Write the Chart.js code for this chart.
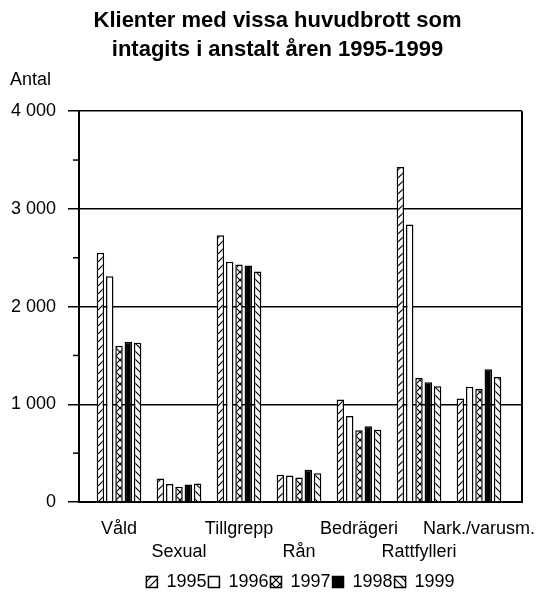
<!DOCTYPE html>
<html>
<head>
<meta charset="utf-8">
<script src="https://cdn.jsdelivr.net/npm/chart.js@4"></script>
<style>
  html, body { margin: 0; padding: 0; background: #fff; }
  #wrap { width: 545px; height: 593px; }
</style>
</head>
<body>
<div id="wrap"><canvas id="chart"></canvas></div>
<script>
// data
const categories = ['Våld', 'Sexual', 'Tillgrepp', 'Rån', 'Bedrägeri', 'Rattfylleri', 'Nark./varusm.'];
const years = ['1995', '1996', '1997', '1998', '1999'];
const v1995 = [2550, 240, 2730, 280, 1050, 3430, 1060];
const v1996 = [2310, 185, 2460, 270, 880, 2840, 1180];
const v1997 = [1600, 155, 2430, 250, 735, 1270, 1160];
const v1998 = [1640, 180, 2420, 330, 775, 1225, 1360];
const v1999 = [1630, 190, 2360, 295, 740, 1185, 1280];
const yMajorTicks = [0, 1000, 2000, 3000, 4000];
const yMinorTicks = [500, 1500, 2500, 3500];

const series = [v1995, v1996, v1997, v1998, v1999];
const FONT = '"Liberation Sans", Arial, sans-serif';
Chart.defaults.font.family = FONT;
Chart.defaults.color = '#000';

const canvas = document.getElementById('chart');
const ctx = canvas.getContext('2d');

// fill patterns like the old excel hatchings
function makePattern(kind) {
    const c = document.createElement('canvas');
    c.width = 8;
    c.height = 8;
    const g = c.getContext('2d');
    g.fillStyle = kind === 'black' ? '#000' : '#fff';
    g.fillRect(0, 0, 8, 8);
    g.strokeStyle = '#000';
    g.lineWidth = 1.2;
    const line = (x1, y1, x2, y2) => {
        g.beginPath();
        g.moveTo(x1, y1);
        g.lineTo(x2, y2);
        g.stroke();
    };
    if (kind === 'fwd' || kind === 'cross') {
        line(0, 8, 8, 0); line(-2, 2, 2, -2); line(6, 10, 10, 6);
    }
    if (kind === 'back' || kind === 'cross') {
        line(0, 0, 8, 8); line(-2, 6, 2, 10); line(6, -2, 10, 2);
    }
    return ctx.createPattern(c, 'repeat');
}
const patterns = ['fwd', 'white', 'cross', 'black', 'back'].map(makePattern);

function fmt(v) {
    return String(v).replace(/\B(?=(\d{3})+(?!\d))/g, ' ');
}

const extras = {
    id: 'extras',
    afterDraw(chart) {
        const { ctx, chartArea: a, scales: { y } } = chart;
        ctx.save();
        ctx.strokeStyle = '#000';
        ctx.lineWidth = 2;
        ctx.beginPath();
        ctx.moveTo(a.right, a.top);
        ctx.lineTo(a.right, a.bottom);
        ctx.stroke();
        // short minor ticks on the y axis
        ctx.lineWidth = 1.5;
        yMinorTicks.forEach(v => {
            const py = y.getPixelForValue(v);
            ctx.beginPath();
            ctx.moveTo(a.left - 6, py);
            ctx.lineTo(a.left, py);
            ctx.stroke();
        });
        ctx.fillStyle = '#000';
        ctx.font = '18px ' + FONT;
        ctx.textBaseline = 'middle';
        ctx.textAlign = 'left';
        ctx.fillText('Antal', 10, 80);
        ctx.restore();
    }
};

const isMajor = c => c.tick && yMajorTicks.includes(c.tick.value);

new Chart(ctx, {
    type: 'bar',
    data: {
        datasets: years.map((year, k) => ({
            label: year,
            data: series[k].map((v, i) => ({ x: i, y: v })),
            backgroundColor: patterns[k],
            borderColor: '#000',
            borderWidth: 1.5
        }))
    },
    options: {
        responsive: true,
        maintainAspectRatio: false,
        animation: false,
        // legend keeps 10px of air under itself, pull it down a bit
        layout: { padding: { left: 10, right: 0, top: 0, bottom: -8 } },
        datasets: { bar: { categoryPercentage: 0.775, barPercentage: 0.8 } },
        scales: {
            x: {
                type: 'linear',
                offset: false,
                min: -0.667,
                max: 6.717,
                afterBuildTicks: s => { s.ticks = categories.map((c, i) => ({ value: i })); },
                afterFit: s => {
                    s.height = 69;
                    s.paddingLeft = 0;
                    s.paddingRight = 0;
                },
                grid: { display: false, drawTicks: false },
                border: { display: true, color: '#000', width: 2 },
                ticks: {
                    autoSkip: false,
                    maxRotation: 0,
                    minRotation: 0,
                    padding: 15,
                    font: { size: 18, lineHeight: 1.3 },
                    callback: v => (v % 2 ? ['', categories[v]] : categories[v])
                }
            },
            y: {
                min: 0,
                max: 4000,
                afterFit: s => { s.width = 69; },
                afterBuildTicks: s => {
                    s.ticks = yMajorTicks.concat(yMinorTicks).sort((a, b) => a - b).map(v => ({ value: v }));
                },
                ticks: {
                    padding: 12,
                    font: { size: 18 },
                    callback: v => (yMajorTicks.includes(v) ? fmt(v) : '')
                },
                grid: {
                    color: c => (isMajor(c) ? '#000' : 'rgba(0,0,0,0)'),
                    tickColor: c => (isMajor(c) ? '#000' : 'rgba(0,0,0,0)'),
                    lineWidth: 1.5,
                    tickLength: 11
                },
                border: { color: '#000', width: 2 }
            },
            // empty right-hand strip so the plot ends where the original does
            y2: {
                position: 'right',
                display: true,
                afterFit: s => { s.width = 23; },
                grid: { display: false, drawTicks: false },
                border: { display: false },
                ticks: { display: false }
            }
        },
        plugins: {
            title: {
                display: true,
                text: ['Klienter med vissa huvudbrott som', 'intagits i anstalt åren 1995-1999'],
                font: { size: 22, weight: 'bold', lineHeight: 1.3 },
                padding: { top: 7, bottom: 47 }
            },
            legend: {
                position: 'bottom',
                fullSize: false,
                labels: { boxWidth: 11, boxHeight: 11, padding: 2, font: { size: 18, lineHeight: 1 } }
            },
            tooltip: { enabled: false }
        }
    },
    plugins: [extras]
});
</script>
</body>
</html>
